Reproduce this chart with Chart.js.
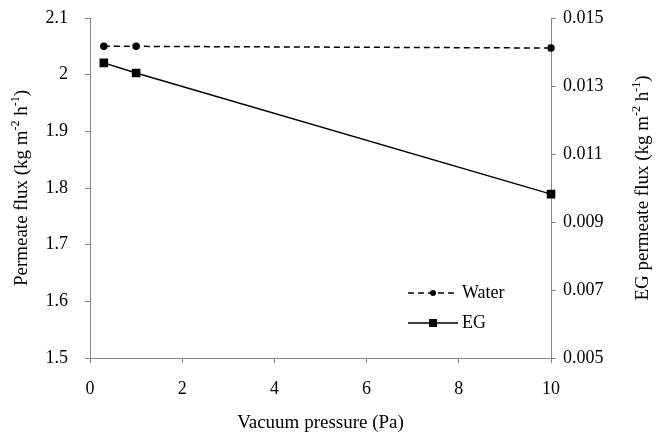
<!DOCTYPE html>
<html lang="en">
<head>
<meta charset="utf-8">
<title>Permeate flux vs vacuum pressure</title>
<script src="https://cdn.jsdelivr.net/npm/chart.js@4.4.0/dist/chart.umd.min.js"></script>
<style>
  html, body { margin: 0; padding: 0; background: #fff; }
  #wrap { width: 657px; height: 434px; position: relative; }
</style>
</head>
<body>
<div id="wrap"><canvas id="graph"></canvas></div>
<script>
// data
var pressure_ = [0.3, 1, 10];
var water_ = [2.050, 2.050, 2.047];
var eg_ = [0.01368, 0.01338, 0.00982];

var xTitle_ = [["Vacuum pressure (Pa)", 0]];
var leftTitle_ = [["Permeate flux (kg m", 0], ["-2", 1], [" h", 0], ["-1", 1], [")", 0]];
var rightTitle_ = [["EG permeate flux (kg m", 0], ["-2", 1], [" h", 0], ["-1", 1], [")", 0]];
var legendNames_ = ["Water", "EG"];

var FONT = "'Liberation Serif', 'Times New Roman', serif";
var AXIS = "#868686";

function pts(xs, ys) {
  return xs.map(function (x, i) { return { x: x, y: ys[i] }; });
}

// draws text with superscript pieces, centred on (0,0) of current transform
function richText(ctx, parts, size) {
  var small = Math.round(size * 0.65);
  var w = 0;
  parts.forEach(function (p) {
    ctx.font = (p[1] ? small : size) + "px " + FONT;
    w += ctx.measureText(p[0]).width;
  });
  var x = -w / 2;
  ctx.textBaseline = "middle";
  ctx.textAlign = "left";
  parts.forEach(function (p) {
    ctx.font = (p[1] ? small : size) + "px " + FONT;
    ctx.fillText(p[0], x, p[1] ? -size * 0.3 : 0);
    x += ctx.measureText(p[0]).width;
  });
}

var titlesPlugin = {
  id: "titles",
  afterDraw: function (chart) {
    var ctx = chart.ctx, a = chart.chartArea;
    var cy = (a.top + a.bottom) / 2;
    ctx.save();
    ctx.fillStyle = "#000";
    ctx.save(); ctx.translate((a.left + a.right) / 2, 423); richText(ctx, xTitle_, 19); ctx.restore();
    ctx.save(); ctx.translate(22, cy); ctx.rotate(-Math.PI / 2); richText(ctx, leftTitle_, 19); ctx.restore();
    ctx.save(); ctx.translate(643, cy); ctx.rotate(-Math.PI / 2); richText(ctx, rightTitle_, 19); ctx.restore();

    // legend inside plot
    var rows = [293, 323];
    chart.data.datasets.forEach(function (ds, i) {
      var y = rows[i];
      ctx.save();
      ctx.strokeStyle = "#000";
      ctx.lineWidth = ds.borderWidth;
      ctx.setLineDash(ds.borderDash || []);
      ctx.beginPath(); ctx.moveTo(408, y); ctx.lineTo(458, y); ctx.stroke();
      ctx.setLineDash([]);
      ctx.fillStyle = "#000";
      if (ds.pointStyle === "rect") {
        var r = ds.pointRadius;
        ctx.fillRect(433 - r * 0.8, y - r * 0.8, r * 1.6, r * 1.6);
      } else {
        ctx.beginPath(); ctx.arc(433, y, ds.pointRadius, 0, Math.PI * 2); ctx.fill();
      }
      ctx.font = "18px " + FONT;
      ctx.textBaseline = "middle";
      ctx.textAlign = "left";
      ctx.fillText(legendNames_[i], 462, y);
      ctx.restore();
    });
    ctx.restore();
  }
};

function axisGrid() {
  return { display: true, drawOnChartArea: false, drawTicks: true, tickLength: 5, color: AXIS };
}

// fixed axis widths, and no extra top/bottom room for tick labels
function fixWidth(w) {
  return function (s) { s.width = w; s.paddingTop = 0; s.paddingBottom = 0; };
}

var graph = document.getElementById("graph").getContext("2d");
var chart = new Chart(graph, {
  type: "line",
  data: {
    datasets: [
      {
        label: legendNames_[0],
        data: pts(pressure_, water_),
        yAxisID: "y",
        borderColor: "#000",
        backgroundColor: "#000",
        borderWidth: 1.5,
        borderDash: [6, 4],
        pointStyle: "circle",
        pointRadius: 3,
        clip: false,
        fill: false
      },
      {
        label: legendNames_[1],
        data: pts(pressure_, eg_),
        yAxisID: "y2",
        borderColor: "#000",
        backgroundColor: "#000",
        borderWidth: 1.5,
        pointStyle: "rect",
        pointRadius: 5,
        clip: false,
        fill: false
      }
    ]
  },
  options: {
    responsive: true,
    maintainAspectRatio: false,
    animation: false,
    layout: { padding: { top: 18, left: 0, right: 0, bottom: 0 } },
    plugins: { legend: { display: false }, tooltip: { enabled: false } },
    scales: {
      x: {
        type: "linear",
        min: 0, max: 10,
        grid: axisGrid(),
        border: { display: true, color: AXIS },
        ticks: { stepSize: 2, color: "#000", padding: 15, font: { family: FONT, size: 18 } },
        afterFit: function (s) { s.height = 76; }
      },
      y: {
        type: "linear",
        position: "left",
        min: 1.5, max: 2.1,
        grid: axisGrid(),
        border: { display: true, color: AXIS },
        ticks: {
          stepSize: 0.1, color: "#000", padding: 17, font: { family: FONT, size: 18 },
          callback: function (v) { return Math.round(v * 10) / 10 + ""; }
        },
        afterFit: fixWidth(90)
      },
      y2: {
        type: "linear",
        position: "right",
        min: 0.005, max: 0.015,
        grid: axisGrid(),
        border: { display: true, color: AXIS },
        ticks: {
          stepSize: 0.002, color: "#000", padding: 7, font: { family: FONT, size: 18 },
          callback: function (v) { return v.toFixed(3); }
        },
        afterFit: fixWidth(106)
      }
    }
  },
  plugins: [titlesPlugin]
});
</script>
</body>
</html>
